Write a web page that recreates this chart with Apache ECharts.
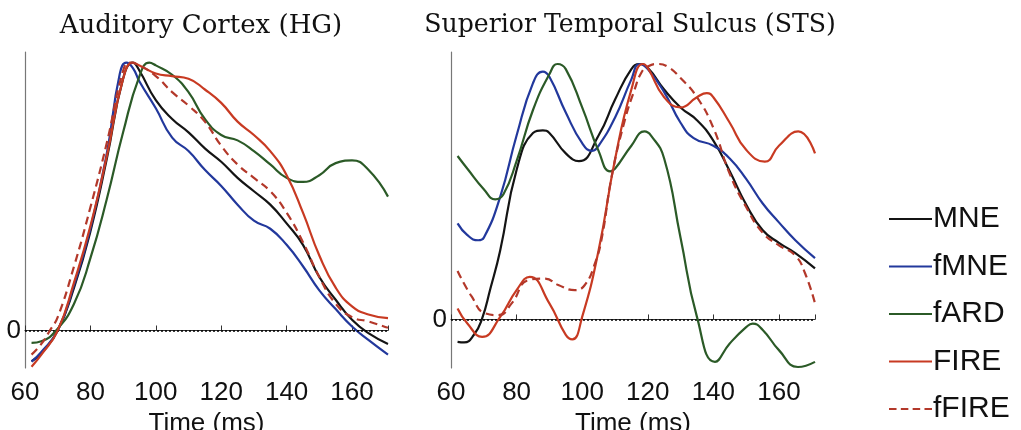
<!DOCTYPE html>
<html>
<head>
<meta charset="utf-8">
<script src="https://cdn.jsdelivr.net/npm/echarts@6/dist/echarts.min.js"></script>
<style>
html,body{margin:0;padding:0;background:#fff;}
#chart{width:1021px;height:430px;}
</style>
</head>
<body>
<div id="chart"></div>
<script>
// ---- Data (time in ms, normalized activity) ----
const seriesNames = ['MNE', 'fMNE', 'fARD', 'FIRE', 'fFIRE'];
const panelTitles = ['Auditory Cortex (HG)', 'Superior Temporal Sulcus (STS)'];
const xTicks = [60, 80, 100, 120, 140, 160];

// Auditory Cortex (HG)
const hgMneT  = [62, 65, 70, 75, 80, 85, 90, 93, 95, 100, 105, 110, 115, 120, 125, 130, 135, 140, 145, 150, 155, 160, 165, 171];
const hgMneV  = [-0.115, -0.085, 0.0, 0.16, 0.37, 0.64, 0.94, 1.0, 0.97, 0.86, 0.79, 0.74, 0.68, 0.63, 0.57, 0.52, 0.47, 0.40, 0.32, 0.20, 0.115, 0.04, -0.01, -0.05];
const hgFmneT = [62, 65, 70, 75, 80, 85, 89, 91, 93, 95, 100, 105, 110, 115, 120, 125, 130, 135, 140, 145, 150, 155, 160, 165, 171];
const hgFmneV = [-0.116, -0.08, 0.0, 0.17, 0.38, 0.66, 0.96, 1.0, 0.98, 0.93, 0.83, 0.72, 0.67, 0.60, 0.54, 0.47, 0.41, 0.38, 0.32, 0.24, 0.15, 0.08, 0.015, -0.035, -0.09];
const hgFardT = [62, 65, 69.5, 75, 80, 85, 90, 95, 98, 100, 105, 110, 115, 120, 125, 130, 135, 140, 145, 150, 155, 160, 165, 171];
const hgFardV = [-0.046, -0.04, 0.0, 0.10, 0.27, 0.49, 0.74, 0.95, 1.0, 0.99, 0.955, 0.89, 0.79, 0.73, 0.71, 0.67, 0.62, 0.57, 0.555, 0.58, 0.625, 0.635, 0.60, 0.50];
const hgFireT = [62, 65, 70, 75, 80, 85, 90, 93, 95, 100, 105, 110, 115, 120, 125, 130, 135, 140, 145, 150, 155, 160, 165, 171];
const hgFireV = [-0.135, -0.09, 0.0, 0.18, 0.39, 0.65, 0.94, 1.0, 0.99, 0.96, 0.95, 0.94, 0.90, 0.85, 0.78, 0.73, 0.67, 0.58, 0.44, 0.28, 0.16, 0.09, 0.06, 0.046];
const hgFfireT = [62, 65, 67.6, 70, 75, 80, 85, 90, 92, 95, 100, 105, 110, 115, 120, 125, 130, 135, 140, 145, 150, 155, 160, 165, 171];
const hgFfireV = [-0.09, -0.05, 0.0, 0.05, 0.24, 0.46, 0.70, 0.97, 1.0, 0.99, 0.95, 0.89, 0.84, 0.78, 0.69, 0.62, 0.57, 0.52, 0.44, 0.33, 0.20, 0.10, 0.05, 0.034, 0.01];

// Superior Temporal Sulcus (STS)
const stsMneT  = [62, 64, 67, 69.4, 72, 75, 80, 85, 88, 90, 95, 99, 105, 110, 115, 117.5, 120, 125, 130, 135, 140, 145, 150, 155, 160, 165, 171];
const stsMneV  = [-0.088, -0.09, -0.06, 0.0, 0.12, 0.27, 0.585, 0.73, 0.74, 0.73, 0.65, 0.62, 0.72, 0.86, 0.98, 1.0, 0.985, 0.90, 0.83, 0.78, 0.70, 0.58, 0.45, 0.35, 0.30, 0.26, 0.20];
const stsFmneT = [62, 65, 68.3, 70, 75, 80, 85, 88, 90, 95, 100, 103, 105, 110, 115, 117.5, 120, 125, 130, 134, 140, 145, 150, 155, 160, 165, 171];
const stsFmneV = [0.376, 0.33, 0.31, 0.32, 0.48, 0.72, 0.925, 0.97, 0.95, 0.81, 0.69, 0.66, 0.68, 0.79, 0.94, 1.0, 0.98, 0.89, 0.77, 0.71, 0.68, 0.63, 0.55, 0.455, 0.38, 0.31, 0.24];
const stsFardT = [62, 65, 70, 73.5, 76, 80, 85, 90, 92.5, 95, 100, 105, 108.5, 110, 115, 119, 121, 125, 130, 135, 140.5, 145, 150, 152, 155, 160, 165.8, 171];
const stsFardV = [0.64, 0.59, 0.51, 0.47, 0.49, 0.62, 0.82, 0.96, 1.0, 0.98, 0.83, 0.66, 0.58, 0.59, 0.68, 0.736, 0.72, 0.63, 0.32, 0.01, -0.166, -0.094, -0.03, -0.016, -0.04, -0.12, -0.186, -0.166];
const stsFireT = [62, 65, 69.5, 75, 80, 84, 90, 95, 97, 100, 105, 110, 115, 118.5, 120, 125, 130, 135, 138, 140, 145, 150, 155.7, 160, 165.9, 171];
const stsFireV = [0.043, -0.016, -0.068, 0.01, 0.115, 0.167, 0.063, -0.06, -0.078, 0.01, 0.27, 0.625, 0.90, 1.0, 0.985, 0.87, 0.83, 0.87, 0.886, 0.87, 0.77, 0.664, 0.618, 0.68, 0.736, 0.65];
const stsFfireT = [62, 66.3, 70.4, 74.5, 78.5, 83.6, 88.7, 92.7, 97.8, 100.8, 103.9, 106, 109, 113, 116, 118, 120, 123, 126, 130, 135, 140, 145, 150, 155, 160, 165, 168, 171];
const stsFfireV = [0.19, 0.09, 0.024, 0.017, 0.063, 0.154, 0.16, 0.135, 0.115, 0.135, 0.22, 0.32, 0.56, 0.78, 0.90, 0.965, 0.99, 1.0, 0.99, 0.945, 0.87, 0.75, 0.57, 0.44, 0.34, 0.29, 0.25, 0.18, 0.063];

const hgData  = [[hgMneT, hgMneV], [hgFmneT, hgFmneV], [hgFardT, hgFardV], [hgFireT, hgFireV], [hgFfireT, hgFfireV]];
const stsData = [[stsMneT, stsMneV], [stsFmneT, stsFmneV], [stsFardT, stsFardV], [stsFireT, stsFireV], [stsFfireT, stsFfireV]];

// ---- Styles ----
const colors = ['#141414', '#22389c', '#2b5a27', '#c83a22', '#b3382a'];
const lineTypes = ['solid', 'solid', 'solid', 'solid', [8, 5]];
const tickFont = "'Liberation Sans', Arial, sans-serif";
const solidIcon = 'path://M0,0H40V2H0Z';
const dashIcon = 'path://M0,0H7V2H0Z M11,0H18V2H11Z M22,0H29V2H22Z M33,0H40V2H33Z';

function pairs(t, v) { return t.map((x, i) => [x, v[i]]); }

function buildSeries(data, gridIdx) {
  return data.map((d, i) => {
    const s = {
      name: seriesNames[i],
      type: 'line',
      xAxisIndex: gridIdx,
      yAxisIndex: gridIdx,
      data: pairs(d[0], d[1]),
      smooth: 0.5,
      symbol: 'none',
      showSymbol: false,
      lineStyle: { color: colors[i], width: 2.2, type: lineTypes[i] },
      itemStyle: { color: colors[i] },
      z: 3 + i
    };
    if (i === 0) {
      s.markLine = {
        silent: true,
        symbol: ['none', 'none'],
        label: { show: false },
        lineStyle: { color: '#000', type: [2, 2], width: 1.6 },
        data: [{ yAxis: 0 }],
        animation: false
      };
    }
    return s;
  });
}

function xAxis(gridIdx) {
  return {
    gridIndex: gridIdx,
    type: 'value',
    min: 60, max: 171, interval: 20,
    name: 'Time (ms)',
    nameLocation: 'middle',
    nameGap: 39,
    nameTextStyle: { fontFamily: tickFont, fontSize: 26, color: '#111' },
    axisLine: { show: true, lineStyle: { color: '#333', width: 1.2 } },
    axisTick: { show: true, inside: true, length: 5, lineStyle: { color: '#333' } },
    axisLabel: {
      fontFamily: tickFont, fontSize: 26, color: '#111', margin: 12,
      formatter: v => (xTicks.indexOf(v) >= 0 ? String(v) : '')
    },
    splitLine: { show: false }
  };
}

function yAxis(gridIdx, min, max) {
  return {
    gridIndex: gridIdx,
    type: 'value',
    min: min, max: max, interval: -min,
    axisLine: { show: true, lineStyle: { color: '#777', width: 1.2 } },
    axisTick: { show: false },
    axisLabel: {
      fontFamily: tickFont, fontSize: 26, color: '#111', margin: 4,
      formatter: v => (Math.abs(v) < 1e-6 ? '0' : '')
    },
    splitLine: { show: false }
  };
}

const legendData = seriesNames.map((n, i) => ({ name: n, icon: i === 4 ? dashIcon : solidIcon }));

const chart = echarts.init(document.getElementById('chart'), null, { renderer: 'canvas' });
chart.setOption({
  animation: false,
  backgroundColor: '#fff',
  title: [
    { text: panelTitles[0], left: 196, top: 8, textAlign: 'center',
      textStyle: { fontFamily: "'DejaVu Serif', 'Liberation Serif', serif", fontWeight: 'normal', fontSize: 26, color: '#111' } },
    { text: panelTitles[1], left: 625, top: 8, textAlign: 'center',
      textStyle: { fontFamily: "'DejaVu Serif', 'Liberation Serif', serif", fontWeight: 'normal', fontSize: 25.2, color: '#111' } }
  ],
  legend: {
    orient: 'vertical',
    left: 889, top: 204, height: 226,
    padding: 0,
    itemWidth: 43, itemHeight: 2.4, itemGap: 17.5,
    data: legendData,
    selectedMode: false,
    lineStyle: { width: 0 },
    textStyle: { fontFamily: "'Liberation Sans', Arial, sans-serif", fontSize: 30, color: '#111', padding: [0, 0, 0, -4] }
  },
  grid: [
    { left: 25, top: 52, width: 363, height: 316, containLabel: false, outerBoundsMode: 'none' },
    { left: 451, top: 52, width: 364, height: 316, containLabel: false, outerBoundsMode: 'none' }
  ],
  xAxis: [xAxis(0), xAxis(1)],
  yAxis: [yAxis(0, -0.14, 1.04), yAxis(1, -0.19, 1.047)],
  series: buildSeries(hgData, 0).concat(buildSeries(stsData, 1))
});
</script>
</body>
</html>
